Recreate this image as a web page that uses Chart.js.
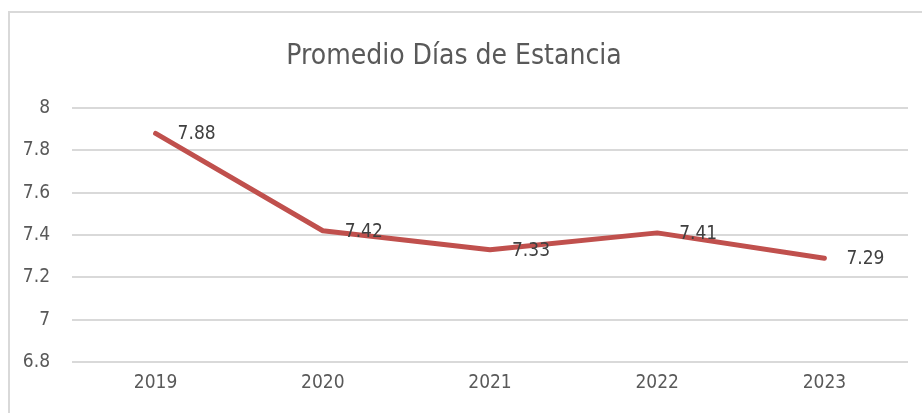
<!DOCTYPE html>
<html>
<head>
<meta charset="utf-8">
<script src="https://cdn.jsdelivr.net/npm/chart.js@4"></script>
<style>
  html, body { margin: 0; padding: 0; background: #fff; }
  #marco {
    position: absolute; left: 8px; top: 11px; width: 930px; height: 420px;
    border-left: 2px solid #d9d9d9; border-top: 2px solid #d9d9d9;
  }
  #lienzo { position: absolute; left: 0; top: 0; width: 922px; height: 413px; }
</style>
</head>
<body>
<div id="marco"></div>
<div id="lienzo"><canvas id="Grafico-Estancia"></canvas></div>
<script>
// Datos
const anios = ["2019", "2020", "2021", "2022", "2023"];
const promedioDias = [7.88, 7.42, 7.33, 7.41, 7.29];
const ticksY = [6.8, 7, 7.2, 7.4, 7.6, 7.8, 8];

const fuente = "'Liberation Sans Narrow', 'DejaVu Sans Condensed', 'Roboto Condensed', sans-serif";
const gris = "#595959";

// etiquetas de datos a la derecha de cada punto
const etiquetas = {
  id: "etiquetas",
  afterDatasetsDraw(chart) {
    const ctx = chart.ctx;
    const meta = chart.getDatasetMeta(0);
    ctx.save();
    ctx.font = "19px " + fuente;
    ctx.fillStyle = "#404040";
    ctx.textAlign = "left";
    ctx.textBaseline = "middle";
    meta.data.forEach((p, i) => {
      ctx.fillText(String(promedioDias[i]), p.x + 22, p.y + 1);
    });
    ctx.restore();
  },
};

const ctx = document.getElementById("Grafico-Estancia").getContext("2d");
new Chart(ctx, {
  type: "line",
  data: {
    labels: anios,
    datasets: [
      {
        label: "Promedio Días de Estancia",
        data: promedioDias,
        borderColor: "#c0504d",
        backgroundColor: "#c0504d",
        borderWidth: 5,
        pointRadius: 0,
        tension: 0,
        borderCapStyle: "round",
        borderJoinStyle: "round",
      },
    ],
  },
  options: {
    responsive: true,
    maintainAspectRatio: false,
    animation: false,
    layout: { padding: { left: 0, right: 14, top: 0, bottom: 0 } },
    plugins: {
      legend: { display: false },
      tooltip: { enabled: false },
      title: {
        display: true,
        text: "Promedio Días de Estancia",
        color: gris,
        font: { family: fuente, size: 28, weight: "normal" },
        padding: { top: 40, bottom: 34.4 },
      },
    },
    scales: {
      x: {
        offset: true,
        grid: { display: false, drawTicks: false },
        border: { display: false },
        ticks: { color: gris, font: { family: fuente, size: 19 }, padding: 10 },
        afterFit: (s) => { s.height = 51; },
      },
      y: {
        min: 6.8,
        max: 8,
        afterBuildTicks: (s) => { s.ticks = ticksY.map((v) => ({ value: v })); },
        grid: { color: "#d9d9d9", lineWidth: 2, drawTicks: false },
        border: { display: false },
        ticks: {
          color: gris,
          font: { family: fuente, size: 19 },
          padding: 22,
          callback: (v) => String(Math.round(v * 10) / 10),
        },
        afterFit: (s) => { s.width = 72; },
      },
    },
  },
  plugins: [etiquetas],
});
</script>
</body>
</html>
